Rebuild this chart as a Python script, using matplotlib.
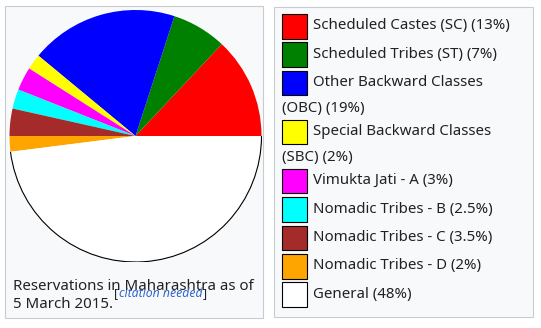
import matplotlib
matplotlib.use("Agg")
import matplotlib.pyplot as plt
from matplotlib.patches import Rectangle, Arc

categories = ["Scheduled Castes (SC)", "Scheduled Tribes (ST)", "Other Backward Classes (OBC)",
              "Special Backward Classes (SBC)", "Vimukta Jati - A", "Nomadic Tribes - B",
              "Nomadic Tribes - C", "Nomadic Tribes - D", "General"]
shares = [13, 7, 19, 2, 3, 2.5, 3.5, 2, 48]
colors = ["#ff0000", "#008000", "#0000ff", "#ffff00", "#ff00ff", "#00ffff",
          "#a52a2a", "#ffa500", "#ffffff"]
caption = ["Reservations in Maharashtra as of", "5 March 2015."]
note = "citation needed"

W, H = 541, 328
text_col = "#202122"
font = "Noto Sans"
fs = 10.8
fs_sup = 8.8

fig = plt.figure(figsize=(W / 100, H / 100), dpi=100)
fig.patch.set_facecolor("white")

# overlay in pixel coordinates (y down)
bg = fig.add_axes([0, 0, 1, 1])
bg.set_xlim(0, W)
bg.set_ylim(H, 0)
bg.axis("off")

bg.add_patch(Rectangle((4.5, 5.5), 258, 312, facecolor="#f8f9fa", edgecolor="#c8ccd1", lw=0.8))
bg.add_patch(Rectangle((273.5, 6.5), 259, 310, facecolor="#f8f9fa", edgecolor="#c8ccd1", lw=0.8))

# pie
cx, cy, r = 135.5, 136, 126
pax = fig.add_axes([(cx - r) / W, (H - cy - r) / H, 2 * r / W, 2 * r / H])
pax.pie(shares, colors=colors, startangle=0, counterclock=True,
        wedgeprops={"linewidth": 0})
pax.set_xlim(-1, 1)
pax.set_ylim(-1, 1)
pax.set_aspect("equal")
pax.axis("off")
start_white = 360 * sum(shares[:-1]) / sum(shares)
pax.add_patch(Arc((0, 0), 2, 2, theta1=start_white, theta2=360, color="black", lw=0.8))

# caption
bg.text(13, 290, caption[0], fontsize=fs, family=font, color=text_col, va="baseline")
t = bg.text(13, 308, caption[1], fontsize=fs, family=font, color=text_col, va="baseline")
renderer = fig.canvas.get_renderer()


def right_edge(txt):
    bb = txt.get_window_extent(renderer)
    return bb.x1


x = right_edge(t) + 1
t = bg.text(x, 297, "[", fontsize=fs_sup, family=font, color=text_col, va="baseline")
x = right_edge(t) + 0.5
t = bg.text(x, 297, note, fontsize=fs_sup, family=font, style="italic", color="#3366cc", va="baseline")
x = right_edge(t) + 0.5
bg.text(x, 297, "]", fontsize=fs_sup, family=font, color=text_col, va="baseline")

# legend
y = 26
for name, val, col in zip(categories, shares, colors):
    label = f"{name} ({val:g}%)"
    bg.add_patch(Rectangle((282, y - 12), 24.5, 24.5, facecolor=col, edgecolor="black", lw=0.8))
    if len(label) > 30:
        first, rest = label.split(" (", 1)
        bg.text(313, y, first, fontsize=fs, family=font, color=text_col, va="center")
        bg.text(282, y + 26, "(" + rest, fontsize=fs, family=font, color=text_col, va="center")
        y += 49
    else:
        bg.text(313, y, label, fontsize=fs, family=font, color=text_col, va="center")
        y += 28.4

fig.savefig("out.png", dpi=100)
